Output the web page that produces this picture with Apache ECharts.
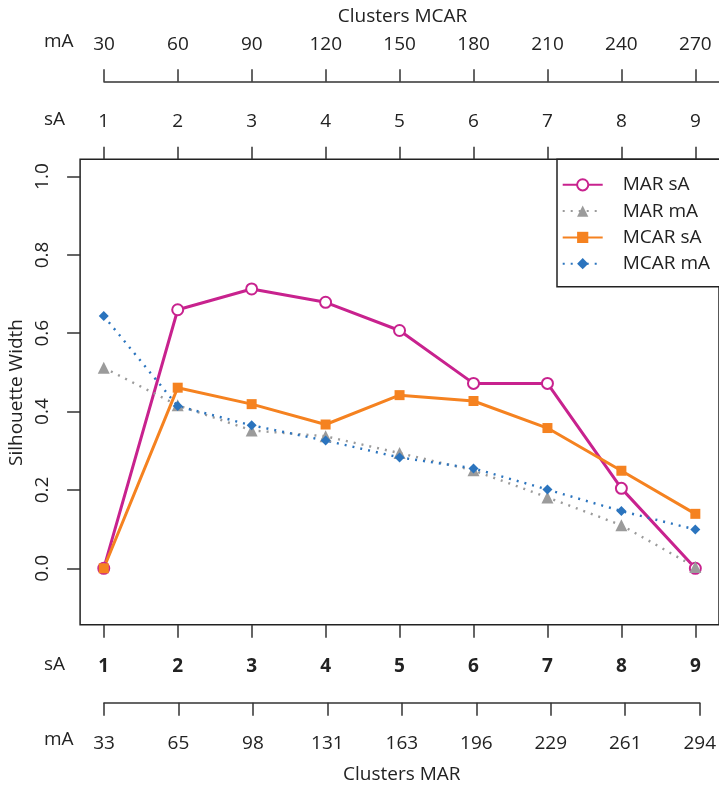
<!DOCTYPE html>
<html>
<head>
<meta charset="utf-8">
<script src="https://cdn.jsdelivr.net/npm/echarts@6/dist/echarts.min.js"></script>
<style>html,body{margin:0;padding:0;background:#fff;}#c{width:719px;height:789px;}</style>
</head>
<body>
<div id="c"></div>
<script>
const clusters = [1, 2, 3, 4, 5, 6, 7, 8, 9];
const sALabels = ['1', '2', '3', '4', '5', '6', '7', '8', '9'];
const mcarMALabels = ['30', '60', '90', '120', '150', '180', '210', '240', '270'];
const marMALabels = ['33', '65', '98', '131', '163', '196', '229', '261', '294'];
const yTicks = [0, 0.2, 0.4, 0.6, 0.8, 1.0];

const marSA  = [0.000, 0.660, 0.713, 0.679, 0.607, 0.472, 0.472, 0.204, 0.000];
const marMA  = [0.512, 0.416, 0.352, 0.337, 0.294, 0.250, 0.181, 0.110, 0.003];
const mcarSA = [0.000, 0.461, 0.419, 0.367, 0.442, 0.427, 0.358, 0.249, 0.139];
const mcarMA = [0.644, 0.414, 0.365, 0.326, 0.283, 0.255, 0.201, 0.146, 0.099];

const FONT = 'Open Sans';
const TXT = '#222';
const AX = '#333';
const unit = 74.71;

const chart = echarts.init(document.getElementById('c'), null, {renderer: 'canvas'});
const pair = arr => clusters.map((c, i) => [c, arr[i]]);

const labelStyle = {fontFamily: FONT, fontSize: 19, color: TXT};

chart.setOption({
  animation: false,
  backgroundColor: '#fff',
  grid: [
    {left: 80.1, top: 159.3, width: 645.5, height: 465.4, show: true, borderColor: '#222', borderWidth: 1.5, backgroundColor: 'transparent'},
    {left: 104, top: 701.7, width: 597.7, height: 1},
    {left: 104, top: 81.7, width: 621.6, height: 1}
  ],
  xAxis: [
    {
      type: 'value', gridIndex: 0, position: 'bottom', min: 0.68, max: 9.32,
      axisLine: {show: false, onZero: false}, splitLine: {show: false},
      axisTick: {show: true, length: 13, lineStyle: {color: AX, width: 1.5}, customValues: clusters},
      axisLabel: Object.assign({}, labelStyle, {fontWeight: 'bold', margin: 32, customValues: clusters,
        formatter: v => sALabels[clusters.indexOf(Math.round(v))]})
    },
    {
      type: 'value', gridIndex: 0, position: 'top', min: 0.68, max: 9.32,
      axisLine: {show: false, onZero: false}, splitLine: {show: false},
      axisTick: {show: true, length: 12.5, lineStyle: {color: AX, width: 1.5}, customValues: clusters},
      axisLabel: Object.assign({}, labelStyle, {margin: 28, customValues: clusters,
        formatter: v => sALabels[clusters.indexOf(Math.round(v))]})
    },
    {
      type: 'value', gridIndex: 1, position: 'bottom', min: 1, max: 9,
      axisLine: {show: true, onZero: false, lineStyle: {color: AX, width: 1.5}}, splitLine: {show: false},
      axisTick: {show: true, length: 13, lineStyle: {color: AX, width: 1.5}, customValues: clusters},
      axisLabel: Object.assign({}, labelStyle, {margin: 31, customValues: clusters,
        formatter: v => marMALabels[clusters.indexOf(Math.round(v))]}),
      name: 'Clusters MAR', nameLocation: 'middle', nameGap: 62,
      nameTextStyle: labelStyle
    },
    {
      type: 'value', gridIndex: 2, position: 'top', min: 1, max: 1 + 621.6 / unit,
      axisLine: {show: true, onZero: false, lineStyle: {color: AX, width: 1.5}}, splitLine: {show: false},
      axisTick: {show: true, length: 12.5, lineStyle: {color: AX, width: 1.5}, customValues: clusters},
      axisLabel: Object.assign({}, labelStyle, {margin: 28, customValues: clusters,
        formatter: v => mcarMALabels[clusters.indexOf(Math.round(v))]})
    }
  ],
  yAxis: [
    {
      type: 'value', gridIndex: 0, min: -0.144, max: 1.044,
      axisLine: {show: false, onZero: false}, splitLine: {show: false},
      axisTick: {show: true, length: 13, lineStyle: {color: AX, width: 1.5}, customValues: yTicks},
      axisLabel: Object.assign({}, labelStyle, {rotate: 90, margin: 28, customValues: yTicks,
        formatter: v => v.toFixed(1)})
    },
    {type: 'value', gridIndex: 1, show: false},
    {type: 'value', gridIndex: 2, show: false}
  ],
  legend: {
    orient: 'vertical', left: 557, top: 159.3,
    padding: [16, 60, 13.5, 4.7],
    itemWidth: 40, itemHeight: 14, itemGap: 7.3,
    backgroundColor: '#fff', borderColor: '#222', borderWidth: 1.5, borderRadius: 0,
    textStyle: {fontFamily: FONT, fontSize: 19, color: TXT, lineHeight: 19, padding: [0, 0, 0, 15]},
    data: ['MAR sA', 'MAR mA', 'MCAR sA', 'MCAR mA']
  },
  graphic: [
    {type: 'text', left: 44, top: 44 - 12, style: {text: 'mA', font: '19px "Open Sans"', fill: TXT}},
    {type: 'text', left: 44, top: 121.7 - 12, style: {text: 'sA', font: '19px "Open Sans"', fill: TXT}},
    {type: 'text', left: 44, top: 666.7 - 12, style: {text: 'sA', font: '19px "Open Sans"', fill: TXT}},
    {type: 'text', left: 44, top: 742.5 - 12, style: {text: 'mA', font: '19px "Open Sans"', fill: TXT}},
    {type: 'text', x: 402.5, y: 17, style: {text: 'Clusters MCAR', font: '19px "Open Sans"', fill: TXT, align: 'center', verticalAlign: 'middle'}},
    {type: 'text', x: 17, y: 392.5, rotation: Math.PI / 2, style: {text: 'Silhouette Width', font: '19px "Open Sans"', fill: TXT, align: 'center', verticalAlign: 'middle'}}
  ],
  series: [
    {
      name: 'MAR sA', type: 'line', xAxisIndex: 0, yAxisIndex: 0, data: pair(marSA),
      symbol: 'emptyCircle', symbolSize: 11,
      lineStyle: {color: '#C8228E', width: 3},
      itemStyle: {color: '#C8228E', borderColor: '#C8228E', borderWidth: 1.5}
    },
    {
      name: 'MAR mA', type: 'line', xAxisIndex: 0, yAxisIndex: 0, data: pair(marMA),
      symbol: 'triangle', symbolSize: 12,
      lineStyle: {color: '#9B9B9B', width: 2.4, type: [2, 6]},
      itemStyle: {color: '#9B9B9B'}
    },
    {
      name: 'MCAR sA', type: 'line', xAxisIndex: 0, yAxisIndex: 0, data: pair(mcarSA),
      symbol: 'rect', symbolSize: 10,
      lineStyle: {color: '#F58220', width: 3},
      itemStyle: {color: '#F58220'}
    },
    {
      name: 'MCAR mA', type: 'line', xAxisIndex: 0, yAxisIndex: 0, data: pair(mcarMA),
      symbol: 'diamond', symbolSize: 10,
      lineStyle: {color: '#2B74BE', width: 2.4, type: [2, 6]},
      itemStyle: {color: '#2B74BE'}
    }
  ]
});
</script>
</body>
</html>
